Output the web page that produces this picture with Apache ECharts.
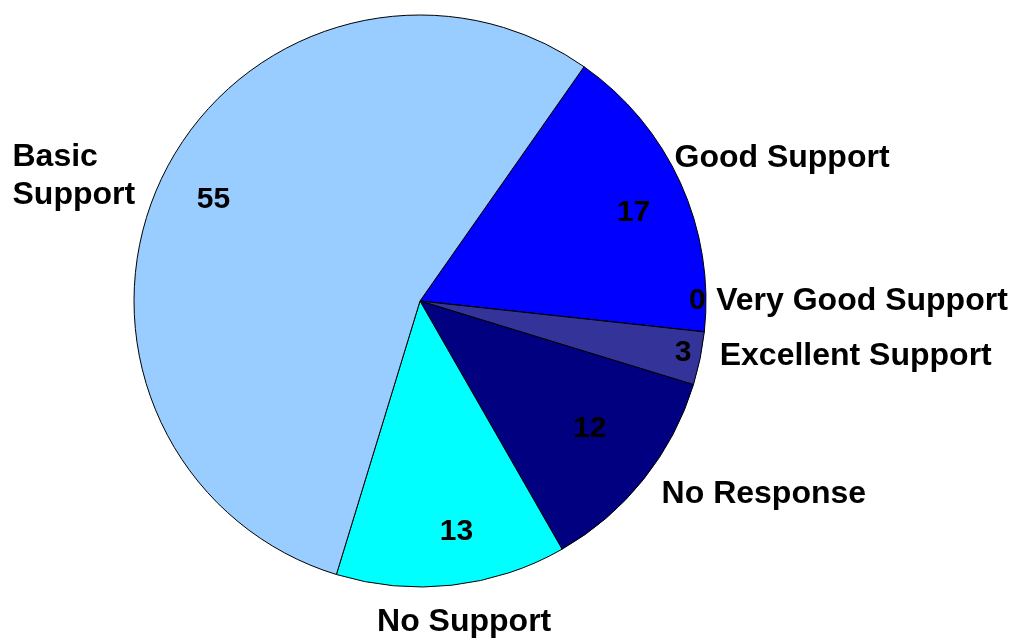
<!DOCTYPE html>
<html>
<head>
<meta charset="utf-8">
<script src="https://cdn.jsdelivr.net/npm/echarts@6/dist/echarts.min.js"></script>
<style>
  html, body { margin: 0; padding: 0; background: #ffffff; }
  #chart { width: 1013px; height: 638px; }
</style>
</head>
<body>
<div id="chart"></div>
<script>
// Survey responses: level of support (clockwise from upper right)
const categories = ['Good Support', 'Very Good Support', 'Excellent Support', 'No Response', 'No Support', 'Basic Support'];
const nameLabels = ['Good Support', 'Very Good Support', 'Excellent Support', 'No Response', 'No Support', 'Basic\nSupport'];
const values = [17, 0, 3, 12, 13, 55];
const sliceColors = ['#0000FF', '#3366FF', '#333399', '#000080', '#00FFFF', '#99CCFF'];

// slices whose value label sits near the rim
const smallSlice = values.map(v => v < 5);

// fine placement of the labels relative to the library's own layout
const nameNudge = [[-20, -20], [-3, -32], [5, -6], [6, 8], [-80, 27], [-14, 5]];
const valueNudge = [[0, 9], [4, -30], [-6, -5], [-13, -19], [11, -2], [4, 2]];

const FONT = '"Liberation Sans", Arial, sans-serif';
const CENTER = [420, 301];
const R = 286;
const START = 55;

const chart = echarts.init(document.getElementById('chart'), null, { renderer: 'canvas' });

const valueLabel = {
  show: true,
  position: 'inside',
  formatter: p => String(values[p.dataIndex]),
  color: '#000',
  fontFamily: FONT,
  fontWeight: 'bold',
  fontSize: 30
};

// invisible ring used only to carry labels; a tiny minAngle keeps the empty slice's label
function labelRing(radius, label, showFn, layout) {
  return {
    type: 'pie',
    center: CENTER,
    radius: radius,
    startAngle: START,
    clockwise: true,
    minAngle: 0.3,
    silent: true,
    avoidLabelOverlap: false,
    itemStyle: { color: 'transparent', borderWidth: 0 },
    label: label,
    labelLine: { show: false, length: 10, length2: 0 },
    labelLayout: layout,
    emphasis: { disabled: true },
    data: categories.map((c, i) => ({ name: c, value: values[i], label: { show: showFn(i) } }))
  };
}

chart.setOption({
  animation: false,
  series: [
    {
      // visible slices
      type: 'pie',
      center: CENTER,
      radius: R,
      startAngle: START,
      clockwise: true,
      label: { show: false },
      labelLine: { show: false },
      itemStyle: { borderColor: '#000', borderWidth: 1 },
      emphasis: { disabled: true },
      data: categories.map((c, i) => ({ name: c, value: values[i], itemStyle: { color: sliceColors[i] } }))
    },
    // category names outside the pie
    labelRing(R, {
      show: true,
      position: 'outside',
      alignTo: 'none',
      formatter: p => nameLabels[p.dataIndex],
      color: '#000',
      fontFamily: FONT,
      fontWeight: 'bold',
      fontSize: 32,
      lineHeight: 38
    }, () => true, p => {
      const r = p.labelRect, n = nameNudge[p.dataIndex];
      return { x: r.x + n[0], y: r.y + r.height / 2 + n[1], align: 'left', verticalAlign: 'middle' };
    }),
    // values of the larger slices
    labelRing([177, R], valueLabel, i => !smallSlice[i], p => {
      const n = valueNudge[p.dataIndex];
      return { dx: n[0], dy: n[1] };
    }),
    // values of the thin slices, close to the rim
    labelRing([258, R], valueLabel, i => smallSlice[i], p => {
      const n = valueNudge[p.dataIndex];
      return { dx: n[0], dy: n[1] };
    })
  ]
});
</script>
</body>
</html>
